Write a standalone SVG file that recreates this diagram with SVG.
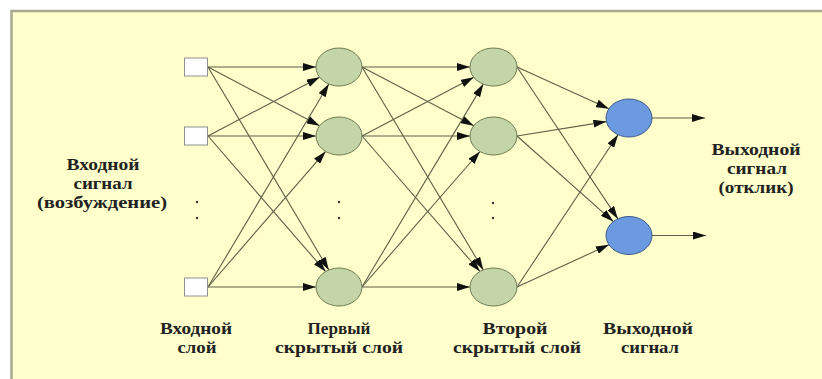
<svg xmlns="http://www.w3.org/2000/svg" width="822" height="379" viewBox="0 0 822 379">
<style>
.bg{fill:#ffffff}
.panel{fill:#ffffcc;stroke:#a8a890;stroke-width:2.5}
.in{fill:#ffffff;stroke:#8f8f8f;stroke-width:1}
.hid{fill:#c4d5a8;stroke:#6f7a52;stroke-width:1}
.out{fill:#6b9ae0;stroke:#3d5a8a;stroke-width:1}
.c line{stroke:#5e5e48;stroke-width:1.1;marker-end:url(#ah)}
.t{font-weight:bold;font-size:17px;fill:#222222;text-anchor:middle}
.dot{fill:#333333}
</style>
<defs>
<marker id="ah" markerUnits="userSpaceOnUse" markerWidth="13" markerHeight="8" refX="13" refY="4" orient="auto">
<path d="M0,0 L13,4 L0,8 z" fill="#111111"/>
</marker>
</defs>
<rect class="bg" x="0" y="0" width="822" height="379"/>
<rect class="panel" x="11.5" y="11" width="820" height="380"/>

<g id="connectors" class="c">
<line x1="208" y1="67" x2="316" y2="67"/>
<line x1="208" y1="67" x2="319.6" y2="125.8"/>
<line x1="208" y1="67" x2="328.8" y2="270"/>
<line x1="208" y1="136" x2="319.6" y2="77.2"/>
<line x1="208" y1="136" x2="316" y2="136"/>
<line x1="208" y1="136" x2="325.6" y2="271.6"/>
<line x1="208" y1="287" x2="328.8" y2="84"/>
<line x1="208" y1="287" x2="325.6" y2="151.4"/>
<line x1="208" y1="287" x2="316" y2="287"/>

<line x1="362" y1="67" x2="470" y2="67"/>
<line x1="362" y1="67" x2="473.8" y2="125.7"/>
<line x1="362" y1="67" x2="483.3" y2="269.9"/>
<line x1="362" y1="136" x2="473.8" y2="77.3"/>
<line x1="362" y1="136" x2="470" y2="136"/>
<line x1="362" y1="136" x2="480" y2="271.5"/>
<line x1="362" y1="287" x2="483.3" y2="84.1"/>
<line x1="362" y1="287" x2="480" y2="151.5"/>
<line x1="362" y1="287" x2="470" y2="287"/>

<line x1="517" y1="67" x2="608.9" y2="108.8"/>
<line x1="517" y1="136" x2="606.4" y2="121.6"/>
<line x1="517" y1="287" x2="618" y2="134.7"/>
<line x1="517" y1="67" x2="617.9" y2="218.9"/>
<line x1="517" y1="136" x2="613.3" y2="221.6"/>
<line x1="517" y1="287" x2="608.9" y2="244.7"/>

<line x1="652" y1="118" x2="705" y2="118"/>
<line x1="652" y1="235.5" x2="706" y2="235.5"/>
</g>

<g id="in1"><rect class="in" x="184.5" y="58" width="23" height="18"/></g>
<g id="in2"><rect class="in" x="184.5" y="127" width="23" height="18"/></g>
<g id="in3"><rect class="in" x="184.5" y="278" width="23" height="18"/></g>

<g id="h1a"><ellipse class="hid" cx="339" cy="67" rx="23" ry="19"/></g>
<g id="h1b"><ellipse class="hid" cx="339" cy="136" rx="23" ry="19"/></g>
<g id="h1c"><ellipse class="hid" cx="339" cy="287" rx="23" ry="19"/></g>

<g id="h2a"><ellipse class="hid" cx="493.5" cy="67" rx="23.5" ry="19"/></g>
<g id="h2b"><ellipse class="hid" cx="493.5" cy="136" rx="23.5" ry="19"/></g>
<g id="h2c"><ellipse class="hid" cx="493.5" cy="287" rx="23.5" ry="19"/></g>

<g id="o1"><ellipse class="out" cx="629" cy="118" rx="23" ry="19"/></g>
<g id="o2"><ellipse class="out" cx="629" cy="235.5" rx="23" ry="19"/></g>

<g id="dots">
<circle class="dot" cx="197" cy="202" r="1.2"/>
<circle class="dot" cx="197" cy="218" r="1.2"/>
<circle class="dot" cx="339" cy="202" r="1.2"/>
<circle class="dot" cx="339" cy="218" r="1.2"/>
<circle class="dot" cx="493" cy="203" r="1.2"/>
<circle class="dot" cx="493" cy="218" r="1.2"/>
</g>

<g id="labels" font-family="'Liberation Serif', 'DejaVu Serif', serif">
<text class="t" x="103" y="170" textLength="73" lengthAdjust="spacingAndGlyphs">Входной</text>
<text class="t" x="103" y="189" textLength="59" lengthAdjust="spacingAndGlyphs">сигнал</text>
<text class="t" x="102" y="208" textLength="130" lengthAdjust="spacingAndGlyphs">(возбуждение)</text>

<text class="t" x="756" y="155" textLength="89" lengthAdjust="spacingAndGlyphs">Выходной</text>
<text class="t" x="757" y="174" textLength="60" lengthAdjust="spacingAndGlyphs">сигнал</text>
<text class="t" x="756" y="193" textLength="75" lengthAdjust="spacingAndGlyphs">(отклик)</text>

<text class="t" x="196" y="334" textLength="72" lengthAdjust="spacingAndGlyphs">Входной</text>
<text class="t" x="197" y="353" textLength="39" lengthAdjust="spacingAndGlyphs">слой</text>

<text class="t" x="339" y="334" textLength="63" lengthAdjust="spacingAndGlyphs">Первый</text>
<text class="t" x="339" y="353" textLength="128" lengthAdjust="spacingAndGlyphs">скрытый слой</text>

<text class="t" x="515" y="334" textLength="65" lengthAdjust="spacingAndGlyphs">Второй</text>
<text class="t" x="517" y="353" textLength="128" lengthAdjust="spacingAndGlyphs">скрытый слой</text>

<text class="t" x="648" y="334" textLength="90" lengthAdjust="spacingAndGlyphs">Выходной</text>
<text class="t" x="650" y="353" textLength="58" lengthAdjust="spacingAndGlyphs">сигнал</text>
</g>
</svg>
